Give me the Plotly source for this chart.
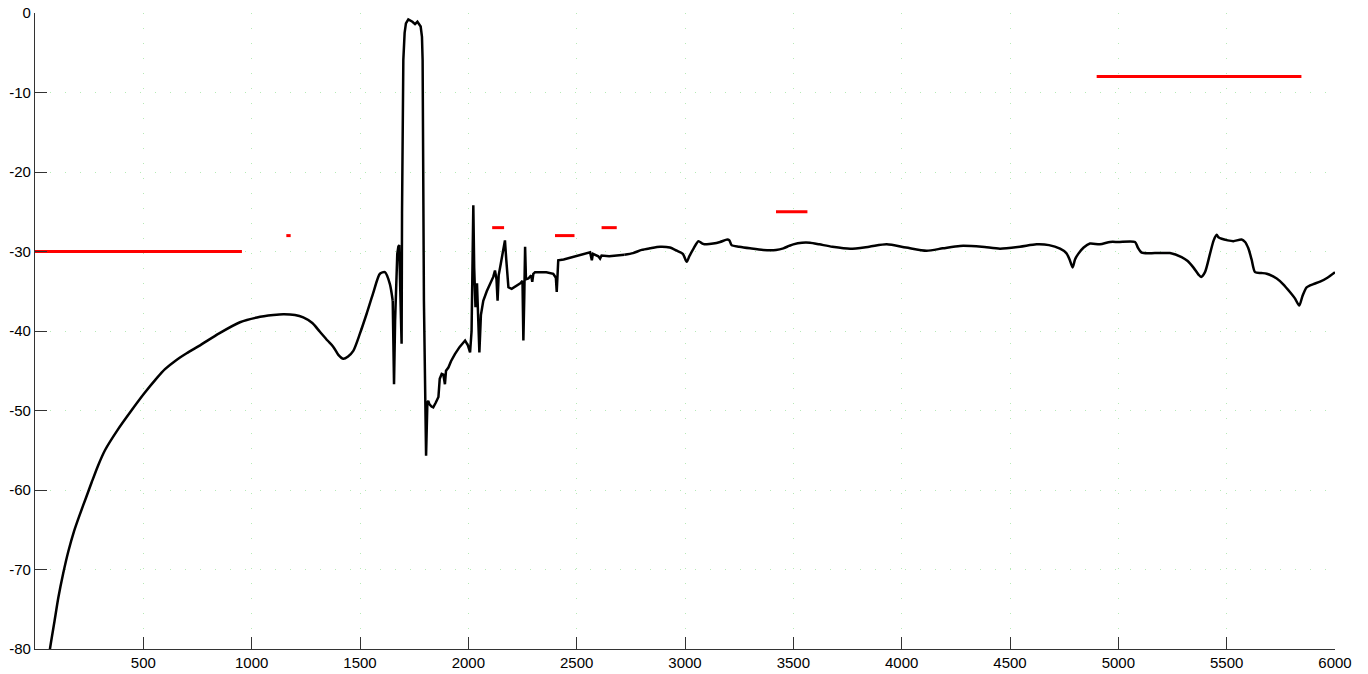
import plotly.graph_objects as go

# ── measured spectrum (black trace) ─────────────────────────────────────────
freq = [
    60, 69, 90, 108, 130, 154, 180, 208, 235, 262, 290, 323, 380, 440, 500,
    563, 600, 650, 700, 762, 850, 946, 1025, 1100, 1146, 1200, 1238, 1280,
    1315, 1350, 1377, 1400, 1423, 1445, 1469, 1500, 1531, 1560, 1592, 1615,
    1638, 1651,
    1657, 1662, 1672, 1677, 1681, 1686, 1692, 1694, 1700, 1706, 1712, 1723,
    1742, 1754, 1765, 1780, 1786, 1789, 1795, 1805, 1808, 1811, 1815, 1820,
    1830, 1838, 1850, 1862, 1868, 1877, 1885, 1892, 1897, 1908, 1920, 1938,
    1960, 1985, 1998, 2008, 2015, 2020, 2023, 2027, 2033, 2040, 2046, 2051,
    2058, 2069, 2085, 2100, 2115, 2123, 2130, 2135, 2140, 2150, 2162, 2169,
    2175, 2185, 2200, 2223, 2240, 2250, 2254, 2258, 2262, 2266, 2277, 2290,
    2295, 2300, 2308, 2330, 2360, 2392, 2404, 2408, 2411, 2415, 2440, 2485,
    2520, 2550, 2562, 2566, 2570, 2575, 2590, 2600, 2608, 2615, 2650, 2685,
    2720, 2760, 2800, 2838, 2885, 2930, 2962, 2990, 3008, 3020, 3040, 3062,
    3080, 3100, 3130, 3162, 3195, 3205, 3215, 3250, 3300, 3361, 3420, 3454,
    3480, 3500, 3540, 3577, 3620, 3680, 3762, 3850, 3931, 4020, 4115, 4190,
    4269, 4370, 4454, 4546, 4623, 4680, 4731, 4760, 4775, 4789, 4800, 4815,
    4840, 4869, 4915, 4962, 5000, 5077, 5090, 5108, 5170, 5238, 5292, 5320,
    5346, 5370, 5382, 5400, 5423, 5440, 5454, 5462, 5477, 5505, 5531, 5569,
    5585, 5600, 5615, 5631, 5660, 5685, 5731, 5760, 5792, 5815, 5835, 5850,
    5869, 5900, 5931, 5965, 6000,
]
level = [
    -82, -80, -76.5, -73.5, -70.5, -67.7, -65.2, -63, -61, -59, -57, -55,
    -52.5, -50.2, -48.0, -45.9, -44.8, -43.7, -42.8, -41.8, -40.3, -38.9,
    -38.3, -38.0, -37.9, -38.0, -38.3, -39.0, -40.1, -41.2, -42.0, -43.0,
    -43.5, -43.2, -42.5, -40.3, -37.8, -35.3, -32.8, -32.6, -34.1, -36.2,
    -46.7, -38.7,
    -30.3, -29.4, -29.2, -35, -41.6, -25.2, -5.9, -2.5, -1.3, -0.8, -1.1,
    -1.4, -1.1, -1.7, -3, -5.9, -36.2, -55.7, -52, -49, -48.8, -49.2, -49.5,
    -49.6, -49, -48.3, -46, -45.4, -45.5, -46.7, -45, -44.6, -43.8, -42.9,
    -42, -41.2, -41.8, -42.7, -40, -30, -24.2, -32, -37, -34, -38, -42.7,
    -38, -36.2, -35.0, -34.0, -33.2, -32.4, -33.5, -36.2, -33.0, -31.5,
    -29.8, -28.6, -31, -34.5, -34.7, -34.3, -34.0, -33.7, -41.2, -36, -29.4,
    -33.5, -33.4, -33.0, -33.8, -32.8, -32.6, -32.6, -32.6, -32.8, -33.3,
    -35.1, -33, -31.1, -31.0, -30.7, -30.4, -30.2, -30.1, -30.6, -31.1,
    -30.3, -30.5, -30.6, -30.9, -30.5, -30.6, -30.5, -30.4, -30.2, -29.8,
    -29.6, -29.4, -29.5, -29.9, -30.3, -31.3, -30.6, -29.6, -28.7, -29.0,
    -29.1, -29.0, -28.8, -28.5, -28.6, -29.2, -29.4, -29.6, -29.8, -29.8,
    -29.6, -29.3, -29.1, -28.9, -28.9, -29.1, -29.4, -29.65, -29.4, -29.1,
    -29.5, -29.9, -29.6, -29.3, -29.4, -29.65, -29.4, -29.1, -29.2, -29.65,
    -30.2, -31.0, -32.0, -31.0, -30.3, -29.5, -29.0, -29.1, -28.8, -28.8,
    -28.8, -29.5, -30.15, -30.2, -30.2, -30.7, -31.2, -32.0, -32.9, -33.2,
    -32.6, -30.3, -28.6, -27.9, -28.2, -28.4, -28.6, -28.7, -28.5, -28.8,
    -29.6, -31.0, -32.6, -32.7, -32.8, -33.4, -34.1, -35.1, -35.9, -36.8,
    -35.6, -34.5, -34.1, -33.8, -33.3, -32.6,
]

# ── limit segments (red): start, end, level ─────────────────────────────────
lim_start = [0, 1160, 2110, 2400, 2615, 3420, 4900]
lim_end = [955, 1180, 2165, 2490, 2685, 3565, 5845]
lim_level = [-30, -28, -27, -28, -27, -25, -8]

x_ticks = list(range(500, 6001, 500))
y_ticks = list(range(-80, 1, 10))
y_labels = [str(v) for v in y_ticks]     # plain hyphen, not the unicode minus

# smooth stretches drawn as spline, the spiky middle as straight segments
i0 = freq.index(1651)
i1 = freq.index(2720)

lx, ly = [], []
for a, b, v in zip(lim_start, lim_end, lim_level):
    lx += [a, b, None]
    ly += [v, v, None]

fig = go.Figure()
fig.add_trace(go.Scatter(x=lx, y=ly, mode="lines",
                         line=dict(color="#FF0000", width=3),
                         hoverinfo="skip"))
for lo, hi, shape in [(0, i0, "spline"), (i0, i1, "linear"), (i1, len(freq) - 1, "spline")]:
    line = dict(color="#000000", width=2.5, shape=shape)
    if shape == "spline":
        line["smoothing"] = 0.7
    fig.add_trace(go.Scatter(x=freq[lo:hi + 1], y=level[lo:hi + 1],
                             mode="lines", line=line))

axis_common = dict(
    showline=True, linecolor="#333333", linewidth=1.2,
    ticks="inside", ticklen=12, tickcolor="#333333", tickwidth=1,
    showgrid=True, gridcolor="#b5ebb5", griddash="1px,14px", gridwidth=1,
    zeroline=False, automargin=False, mirror=False,
    tickfont=dict(family="Liberation Sans, Arial, sans-serif",
                  size=15, color="#000000"),
)

fig.update_layout(
    width=1368, height=674,
    margin=dict(l=35, r=33, t=13, b=25),
    paper_bgcolor="white", plot_bgcolor="white",
    showlegend=False,
    xaxis=dict(range=[0, 6000], tickvals=x_ticks, **axis_common),
    yaxis=dict(range=[-80, 0], tickvals=y_ticks, ticktext=y_labels, **axis_common),
)

# drop the default 8px page margin so the figure fills the window exactly
fig.write_html("out.html",
               config=dict(displayModeBar=False),
               post_script="document.body.style.margin='0';"
                           "document.body.style.overflow='hidden';")
